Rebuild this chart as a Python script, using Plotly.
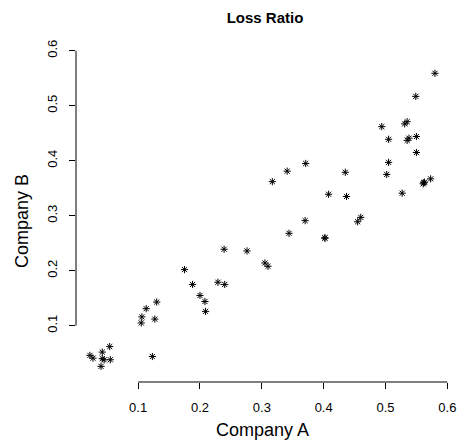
import plotly.graph_objects as go

# Loss ratios for the two companies, one pair per observation
company_a = [0.022, 0.027, 0.042, 0.054, 0.042, 0.045, 0.055, 0.040, 0.123,
             0.105, 0.106, 0.113, 0.130, 0.127, 0.175, 0.188, 0.200, 0.208,
             0.209, 0.229, 0.240, 0.239, 0.276, 0.305, 0.310, 0.344, 0.370,
             0.317, 0.341, 0.371, 0.435, 0.408, 0.437, 0.402, 0.402, 0.460,
             0.455, 0.580, 0.549, 0.494, 0.531, 0.535, 0.505, 0.535, 0.538,
             0.550, 0.550, 0.505, 0.502, 0.561, 0.563, 0.573, 0.527, 0.562]
company_b = [0.046, 0.041, 0.052, 0.062, 0.040, 0.038, 0.038, 0.026, 0.044,
             0.105, 0.116, 0.131, 0.143, 0.112, 0.202, 0.175, 0.155, 0.144,
             0.126, 0.179, 0.175, 0.239, 0.236, 0.214, 0.208, 0.268, 0.291,
             0.362, 0.381, 0.395, 0.379, 0.339, 0.335, 0.260, 0.259, 0.297,
             0.289, 0.559, 0.517, 0.462, 0.467, 0.471, 0.439, 0.437, 0.441,
             0.444, 0.415, 0.397, 0.375, 0.358, 0.361, 0.367, 0.341, 0.360]

tick_vals = [0.1, 0.2, 0.3, 0.4, 0.5, 0.6]
tick_text = ["0.1", "0.2", "0.3", "0.4", "0.5", "0.6"]

FONT = "Liberation Sans, Arial, Helvetica, sans-serif"

fig = go.Figure(
    go.Scatter(
        x=company_a, y=company_b, mode="markers",
        marker=dict(symbol="asterisk-open", size=6, color="black",
                    line=dict(color="black", width=1)),
        hoverinfo="x+y",
    )
)

axis_common = dict(
    showgrid=False, zeroline=False, showline=False,
    ticks="outside", ticklen=6, tickwidth=1, tickcolor="black",
    tickvals=tick_vals, ticktext=tick_text,
    tickfont=dict(family=FONT, size=13, color="black"),
    ticklabelstandoff=7,
)

fig.update_layout(
    width=464, height=447,
    margin=dict(l=76, r=8, t=48, b=65),
    paper_bgcolor="white", plot_bgcolor="white",
    showlegend=False,
    title=dict(text="<b>Loss Ratio</b>", x=265 / 464, y=1 - 18 / 447,
               xanchor="center", yanchor="middle",
               font=dict(family=FONT, size=15, color="black")),
    xaxis=dict(range=[-0.0005, 0.6027], **axis_common),
    yaxis=dict(range=[-0.0024, 0.605], tickangle=-90, **axis_common),
    annotations=[
        dict(text="Company A", xref="paper", yref="paper",
             x=0.5, y=-48 / 334, xanchor="center", yanchor="middle",
             showarrow=False, font=dict(family=FONT, size=18, color="black")),
        dict(text="Company B", xref="paper", yref="paper",
             x=-55 / 380, y=0.482, xanchor="center", yanchor="middle",
             textangle=-90, showarrow=False,
             font=dict(family=FONT, size=18, color="black")),
    ],
    shapes=[
        # axis lines span only the labelled tick range
        dict(type="line", xref="x", yref="paper", x0=0.1, x1=0.6, y0=0, y1=0,
             line=dict(color="black", width=1)),
        dict(type="line", xref="paper", yref="y", x0=0, x1=0, y0=0.1, y1=0.6,
             line=dict(color="black", width=1)),
    ],
)

fig.write_html("out.html")
